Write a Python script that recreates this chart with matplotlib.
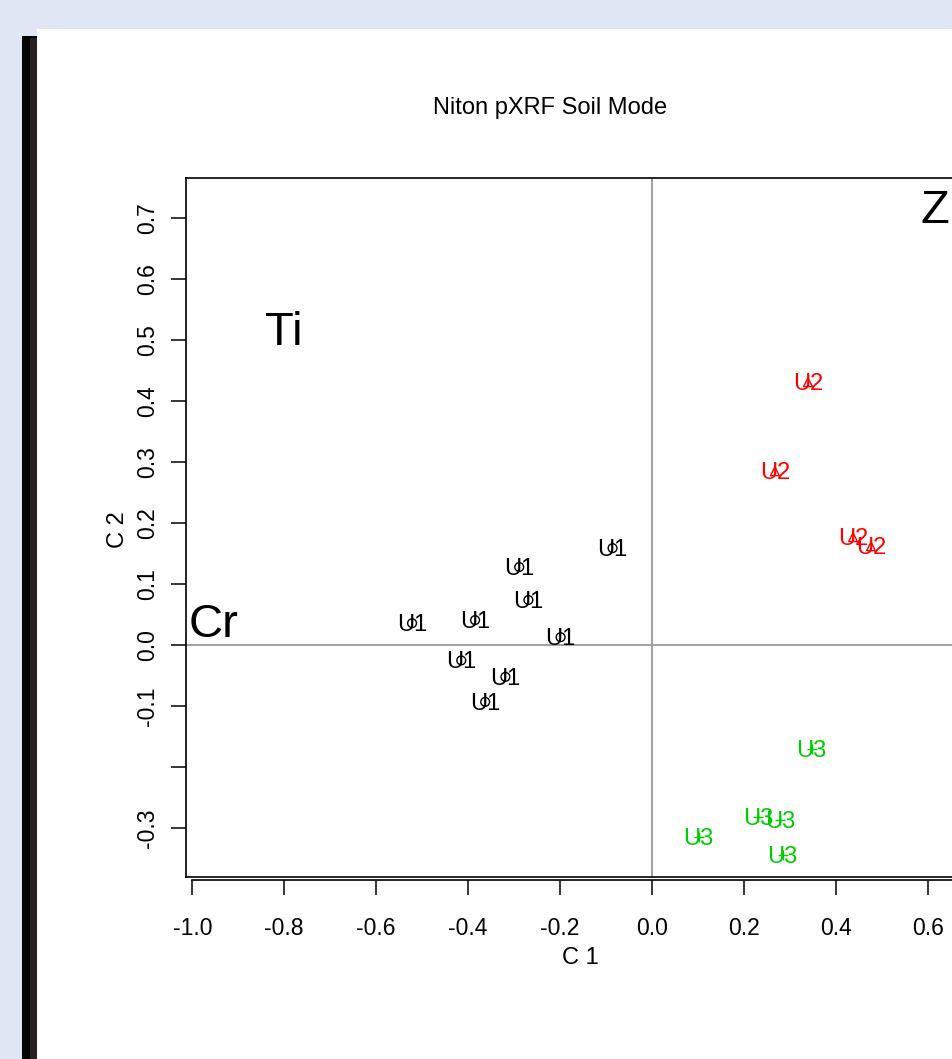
import matplotlib.pyplot as plt
from matplotlib.patches import Rectangle

W, H = 953, 1059

# sample scores (C1, C2) per group
u1_x = [-0.522, -0.385, -0.289, -0.269, -0.086, -0.199, -0.415, -0.319, -0.363]
u1_y = [0.036, 0.041, 0.128, 0.074, 0.159, 0.013, -0.025, -0.052, -0.093]
u2_x = [0.339, 0.267, 0.437, 0.476]
u2_y = [0.431, 0.285, 0.177, 0.162]
u3_x = [0.347, 0.230, 0.278, 0.101, 0.284]
u3_y = [-0.170, -0.282, -0.287, -0.315, -0.344]

groups = ["U1", "U2", "U3"]
group_colors = ["black", "red", "#00cd00"]
group_markers = ["o", "^", "+"]

# element labels
var_names = ["Ti", "Cr", "Zn"]
var_x = [-0.802, -0.953, 0.644]
var_y = [0.511, 0.033, 0.712]

xticks = [-1.0, -0.8, -0.6, -0.4, -0.2, 0.0, 0.2, 0.4, 0.6]
yticks = [0.7, 0.6, 0.5, 0.4, 0.3, 0.2, 0.1, 0.0, -0.1, -0.2, -0.3]
ytick_labels = ["0.7", "0.6", "0.5", "0.4", "0.3", "0.2", "0.1", "0.0", "-0.1", "", "-0.3"]

plt.rcParams["font.family"] = ["Liberation Sans", "DejaVu Sans"]

fig = plt.figure(figsize=(W / 100, H / 100), dpi=100)
fig.patch.set_facecolor("#e0e7f4")

# page panel + dark bar on the left
fig.patches.append(Rectangle((22 / W, 0), 15 / W, 1 - 36 / H, transform=fig.transFigure,
                             facecolor="#050505", edgecolor="none", zorder=-5))
fig.patches.append(Rectangle((30 / W, 0), 7 / W, 1 - 38 / H, transform=fig.transFigure,
                             facecolor="#252122", edgecolor="none", zorder=-5))
fig.patches.append(Rectangle((37 / W, 0), 1 - 37 / W, 1 - 29 / H, transform=fig.transFigure,
                             facecolor="white", edgecolor="none", zorder=-5))

left, right, top, bottom = 186, 974, 178, 877
ax = fig.add_axes([left / W, 1 - bottom / H, (right - left) / W, (bottom - top) / H])
ax.set_facecolor("none")
ax.set_xlim(-1.0136, 0.700)
ax.set_ylim(-0.380, 0.7656)

ax.axhline(0, color="#a0a0a0", lw=1.4, zorder=1)
ax.axvline(0, color="#a0a0a0", lw=1.4, zorder=1)

data = [(u1_x, u1_y), (u2_x, u2_y), (u3_x, u3_y)]
for (xs, ys), name, col, mk in zip(data, groups, group_colors, group_markers):
    if mk == "+":
        ax.scatter(xs, ys, marker=mk, s=60, c=col, linewidths=1.0, zorder=2)
    else:
        ax.scatter(xs, ys, marker=mk, s=40, facecolors="none", edgecolors=col,
                   linewidths=1.0, zorder=2)
    for x, y in zip(xs, ys):
        ax.annotate(name, (x, y), xytext=(0, -2), textcoords="offset pixels",
                    color=col, fontsize=17, ha="center", va="center", zorder=3)

for name, x, y in zip(var_names, var_x, var_y):
    ax.text(x, y, name, fontsize=34, ha="center", va="center", clip_on=False, zorder=3)

# axes box and R-style axes
for s in ["top", "right", "left"]:
    ax.spines[s].set_linewidth(1.2)
ax.spines["bottom"].set_position(("outward", 2.5))
ax.spines["bottom"].set_bounds(-1.0, 0.700)
ax.spines["bottom"].set_linewidth(1.2)
ax.plot([0, 1], [0, 0], transform=ax.transAxes, color="black", lw=1.2, clip_on=False)

ax.set_xticks(xticks)
ax.set_xticklabels([f"{t:.1f}" for t in xticks])
ax.set_yticks(yticks)
ax.set_yticklabels(ytick_labels, rotation=90, va="center")
ax.tick_params(length=10.5, width=1.1, labelsize=16.5)
ax.tick_params(axis="x", pad=16)
ax.tick_params(axis="y", pad=9)

fig.text(550 / W, 1 - 108 / H, "Niton pXRF Soil Mode", fontsize=17, ha="center", va="center")
fig.text(580 / W, 1 - 958 / H, "C 1", fontsize=17, ha="center", va="center")
fig.text(118 / W, 1 - 530 / H, "C 2", fontsize=17, ha="center", va="center", rotation=90)

fig.savefig("out.png", dpi=100)
